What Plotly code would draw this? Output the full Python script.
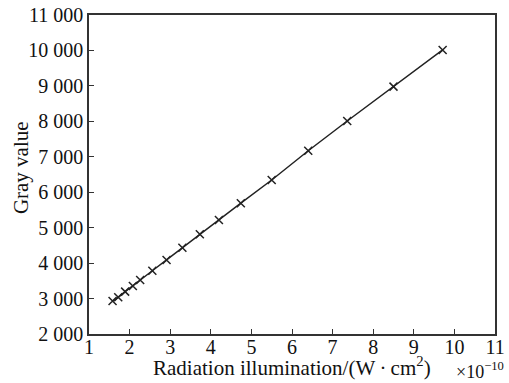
import plotly.graph_objects as go

# Data (x in units of 1e-10 W·cm^2)
irradiance = [1.58, 1.72, 1.89, 2.08, 2.26, 2.56, 2.91, 3.30, 3.73, 4.20,
              4.74, 5.50, 6.40, 7.36, 8.50, 9.71]
gray = [2930, 3035, 3195, 3355, 3525, 3785, 4090, 4435, 4815, 5215,
        5690, 6345, 7170, 8010, 8980, 10015]

x_ticks = list(range(1, 12))
y_ticks = list(range(2000, 11001, 1000))
y_tick_text = ["2 000", "3 000", "4 000", "5 000", "6 000",
               "7 000", "8 000", "9 000", "10 000", "11 000"]

x_title = "Radiation illumination/(W\u2009\u00b7\u2009cm<sup>2</sup>)"
y_title = "Gray value"
x_scale_note = "\u00d710<sup>\u221210</sup>"

FONT = "Liberation Serif, Times New Roman, serif"
AX = "#333333"
TXT = "#111111"

fig = go.Figure()
fig.add_trace(go.Scatter(
    x=irradiance, y=gray, mode="lines+markers",
    line=dict(color="#222222", width=1.5),
    marker=dict(symbol="x-thin-open", size=8, line=dict(color="#111111", width=1.5)),
    showlegend=False,
))

fig.update_layout(
    width=509, height=383,
    margin=dict(l=89, r=14, t=15, b=49),
    paper_bgcolor="white", plot_bgcolor="white",
    font=dict(family=FONT, size=20, color=TXT),
    xaxis=dict(
        range=[1, 11], tickvals=x_ticks, ticktext=[str(v) for v in x_ticks],
        ticks="inside", ticklen=5, tickwidth=1.2, tickcolor=AX,
        tickfont=dict(size=20), automargin=False, ticklabelstandoff=-6,
        showline=True, linecolor=AX, linewidth=1.5, mirror=True,
        showgrid=False, zeroline=False,
    ),
    yaxis=dict(
        range=[2000, 11000], tickvals=y_ticks, ticktext=y_tick_text,
        ticks="inside", ticklen=5, tickwidth=1.2, tickcolor=AX,
        tickfont=dict(size=20), automargin=False,
        showline=True, linecolor=AX, linewidth=1.5, mirror=True,
        showgrid=False, zeroline=False,
    ),
    annotations=[
        dict(text=x_title, xref="paper", yref="paper", x=0.5, y=0,
             xanchor="center", yanchor="middle", yshift=-32,
             showarrow=False, font=dict(family=FONT, size=21, color=TXT)),
        dict(text=y_title, xref="paper", yref="paper", x=0, y=0.52,
             xanchor="center", yanchor="middle", xshift=-68, textangle=-90,
             showarrow=False, font=dict(family=FONT, size=21, color=TXT)),
        dict(text=x_scale_note, xref="paper", yref="paper",
             x=0.899, y=0, xanchor="left", yanchor="middle", yshift=-36,
             showarrow=False, font=dict(family=FONT, size=18, color=TXT)),
    ],
)

fig.write_html("out.html")
